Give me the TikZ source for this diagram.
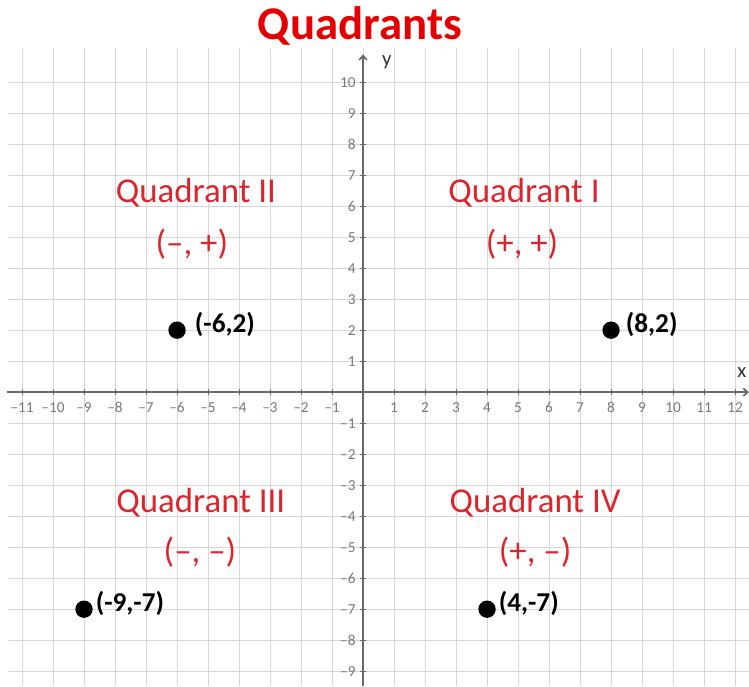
\documentclass[tikz,border=0pt]{standalone}
\usepackage{fontspec}
\setmainfont{Carlito}
\usetikzlibrary{positioning,arrows.meta}

\definecolor{titlered}{RGB}{228,0,0}
\definecolor{quadred}{RGB}{218,37,45}
\definecolor{gridgray}{RGB}{214,214,214}
\definecolor{axisgray}{RGB}{105,105,105}
\definecolor{ticktext}{RGB}{120,120,120}

% tick text: negative numbers get a real dash
\newcommand{\ticktxt}[1]{\ifnum#1<0 \textendash\number\numexpr-#1\relax\else#1\fi}

\begin{document}
\begin{tikzpicture}[
    every node/.style={font=\fontsize{14}{16}\selectfont},
    gridline/.style={gridgray, line width=0.8pt},
    axisline/.style={axisgray, line width=1.6pt},
    tickmark/.style={axisgray, line width=0.8pt},
    ticklabel/.style={text=ticktext, inner sep=1pt},
    axislabel/.style={text=black!80, inner sep=0.5pt, font=\fontsize{19}{22}\selectfont},
    quadlabel/.style={text=quadred, font=\fontsize{32}{38}\selectfont},
    dot/.style={circle, fill=black, inner sep=0pt, minimum size=0.56cm},
    coordlabel/.style={font=\bfseries\fontsize{25}{30}\selectfont, inner sep=1pt}
]

\useasboundingbox (-11.71,-9.48) rectangle (12.45,12.65);

% Grid
\foreach \x in {-11,...,12}
    \draw[gridline] (\x,-9.48) -- (\x,11.1);
\foreach \y in {-9,...,10}
    \draw[gridline] (-11.45,\y) -- (12.45,\y);

% Axes
\coordinate (xstart) at (-11.5,0);
\coordinate (xend) at (12.45,0);
\coordinate (ystart) at (0,-9.48);
\coordinate (yend) at (0,10.9);
\draw[axisline, -{Straight Barb[length=4pt,width=7pt]}] (xstart) -- (xend);
\draw[axisline, -{Straight Barb[length=4pt,width=7pt]}] (ystart) -- (yend);
\node[axislabel] (xname) at (12.22,0.62) {x};
\node[axislabel] (yname) at (0.77,10.64) {y};

% Ticks and numbers
\foreach \x [count=\i] in {-11,...,-1,1,2,...,12} {
    \draw[tickmark] (\x,-0.1) -- (\x,0.1);
    \node[ticklabel] (xt\i) at (\x,-0.5) {\ticktxt{\x}};
}
\foreach \y [count=\j] in {-9,...,-1,1,2,...,10} {
    \draw[tickmark] (-0.1,\y) -- (0.1,\y);
    \node[ticklabel, anchor=east] (yt\j) at (-0.2,\y) {\ticktxt{\y}};
}

% Title
\node[text=titlered, inner sep=0pt, font=\bfseries\fontsize{43}{50}\selectfont] (title) at (-0.1,11.82) {Quadrants};

% Quadrant names and signs
\node[quadlabel] (q1) at (5.19,6.45) {Quadrant I};
\node[quadlabel] (s1) at (5.13,4.77) {(+, +)};
\node[quadlabel] (q2) at (-5.39,6.45) {Quadrant II};
\node[quadlabel] (s2) at (-5.52,4.77) {(\textendash, +)};
\node[quadlabel] (q3) at (-5.23,-3.58) {Quadrant III};
\node[quadlabel] (s3) at (-5.26,-5.16) {(\textendash, \textendash)};
\node[quadlabel] (q4) at (5.55,-3.58) {Quadrant IV};
\node[quadlabel] (s4) at (5.55,-5.16) {(+, \textendash)};

% Points
\node[dot] (pA) at (8,2) {};
\node[dot] (pB) at (-6,2) {};
\node[dot] (pC) at (-9,-7) {};
\node[dot] (pD) at (4,-7) {};
\node[coordlabel, right=0.15cm of pA, yshift=0.2cm] (lA) {(8,2)};
\node[coordlabel, right=0.25cm of pB, yshift=0.2cm] (lB) {(-6,2)};
\node[coordlabel, right=0.05cm of pC, yshift=0.2cm] (lC) {(-9,-7)};
\node[coordlabel, right=0.05cm of pD, yshift=0.2cm] (lD) {(4,-7)};

\end{tikzpicture}
\end{document}
